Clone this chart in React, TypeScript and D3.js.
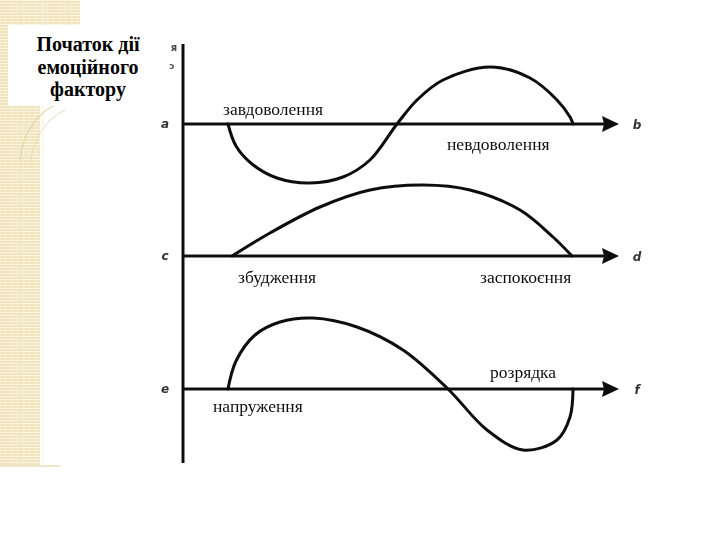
import * as d3 from 'd3';

// curve samples: [time, amplitude] (time 0 = origin of the vertical axis)
const satisfaction: [number, number][] = [
  [45, 0], [53, -22], [69, -40], [94, -54], [127, -59], [160, -53], [187, -36],
  [214, 0], [234, 24], [260, 44], [307, 57], [347, 46], [374, 24], [387, 7], [390, 0],
];
const excitement: [number, number][] = [
  [49, 0], [87, 23], [137, 49], [187, 66], [240, 71], [287, 66], [337, 46], [370, 19], [389, 0],
];
const tension: [number, number][] = [
  [45, 0], [53, 28], [72, 54], [97, 67], [130, 71], [174, 62], [220, 39], [265, 0],
  [304, -41], [340, -61], [374, -51], [387, -28], [390, 0],
];

const axisLetters = [['a', 'b'], ['c', 'd'], ['e', 'f']];
const stateLabels = [
  ['завдоволення', 'невдоволення'],
  ['збудження', 'заспокоєння'],
  ['напруження', 'розрядка'],
];
const titleLines = ['Початок дії', 'емоційного', 'фактору'];

const W = 720;
const H = 540;
const baselines = [124, 256, 389];

export default function App() {
  const x = d3.scaleLinear().domain([0, 440]).range([183, 623]);
  const yFor = (base: number) => d3.scaleLinear().domain([-70, 70]).range([base + 70, base - 70]);
  const series = [satisfaction, excitement, tension];

  // label anchors [time, amplitude] for left/right text of each panel
  const labelPos = [
    [[40, 9], [264, -26]],
    [[55, -27], [297, -27]],
    [[30, -23], [307, 11]],
  ];

  return (
    <svg width={W} height={H} style={{ position: 'absolute', left: 0, top: 0 }}>
      <defs>
        <pattern id="stripes" width="6" height="3" patternUnits="userSpaceOnUse">
          <rect width="6" height="3" fill="#f0e4bd" />
          <rect y="0" width="6" height="1" fill="#f9f3df" />
          <rect x="5" width="1" height="3" fill="#f6eed4" />
        </pattern>
        <filter id="soft"><feGaussianBlur stdDeviation="0.4" /></filter>
      </defs>
      <rect width={W} height={H} fill="#fff" />

      {/* decorative slide strip */}
      <rect x={0} y={0} width={40} height={465} fill="url(#stripes)" />
      <rect x={0} y={0} width={80} height={25} fill="url(#stripes)" />
      <line x1={43} y1={0} x2={43} y2={465} stroke="#f4efe2" strokeWidth={1} />
      <line x1={0} y1={466} x2={60} y2={466} stroke="#efe6c8" strokeWidth={2} />
      <path d="M20,160 Q25,120 55,105" fill="none" stroke="#e4d7ab" strokeWidth={1.2} />
      <path d="M30,165 Q35,125 65,110" fill="none" stroke="#e8ddb6" strokeWidth={1} />

      {/* title box */}
      <rect x={8} y={25} width={139} height={81} fill="#fff" />
      {titleLines.map((t, i) => (
        <text key={t} x={88} y={51 + i * 22.5} textAnchor="middle"
          fontFamily="'Liberation Serif', serif" fontWeight="bold" fontSize={20} fill="#000">
          {t}
        </text>
      ))}

      <g filter="url(#soft)">
        {/* vertical axis */}
        <line x1={x(0)} y1={44} x2={x(0)} y2={463} stroke="#111" strokeWidth={3} />
        <text x={174} y={51} textAnchor="middle" fontFamily="'DejaVu Sans', sans-serif"
          fontSize={10} fontWeight="bold" fill="#444">я</text>
        <text x={172} y={69} textAnchor="middle" fontFamily="'DejaVu Sans', sans-serif"
          fontSize={9} fontWeight="bold" fill="#555">ɔ</text>

        {baselines.map((base, i) => {
          const y = yFor(base);
          const line = d3.line<[number, number]>()
            .x(d => x(d[0]))
            .y(d => y(d[1]))
            .curve(d3.curveCatmullRom.alpha(0.5));
          const tip = x(436);
          return (
            <g key={i}>
              <line x1={x(0)} y1={y(0)} x2={tip - 12} y2={y(0)} stroke="#111" strokeWidth={3} />
              <path d={`M${tip},${y(0)} L${tip - 17},${y(0) - 8} L${tip - 15},${y(0)} L${tip - 17},${y(0) + 8} Z`}
                fill="#111" />
              <path d={line(series[i]) || ''} fill="none" stroke="#111" strokeWidth={3}
                strokeLinecap="round" strokeLinejoin="round" />
              <text x={x(-18)} y={y(0) + 4} textAnchor="middle" fontFamily="'DejaVu Sans', sans-serif"
                fontStyle="italic" fontWeight="bold" fontSize={12} fill="#333">{axisLetters[i][0]}</text>
              <text x={x(454)} y={y(0) + 5} textAnchor="middle" fontFamily="'DejaVu Sans', sans-serif"
                fontStyle="italic" fontWeight="bold" fontSize={12} fill="#333">{axisLetters[i][1]}</text>
              {stateLabels[i].map((t, j) => (
                <text key={t} x={x(labelPos[i][j][0])} y={y(labelPos[i][j][1])}
                  fontFamily="'Liberation Serif', serif" fontSize={17.5} fill="#111">{t}</text>
              ))}
            </g>
          );
        })}
      </g>
    </svg>
  );
}
